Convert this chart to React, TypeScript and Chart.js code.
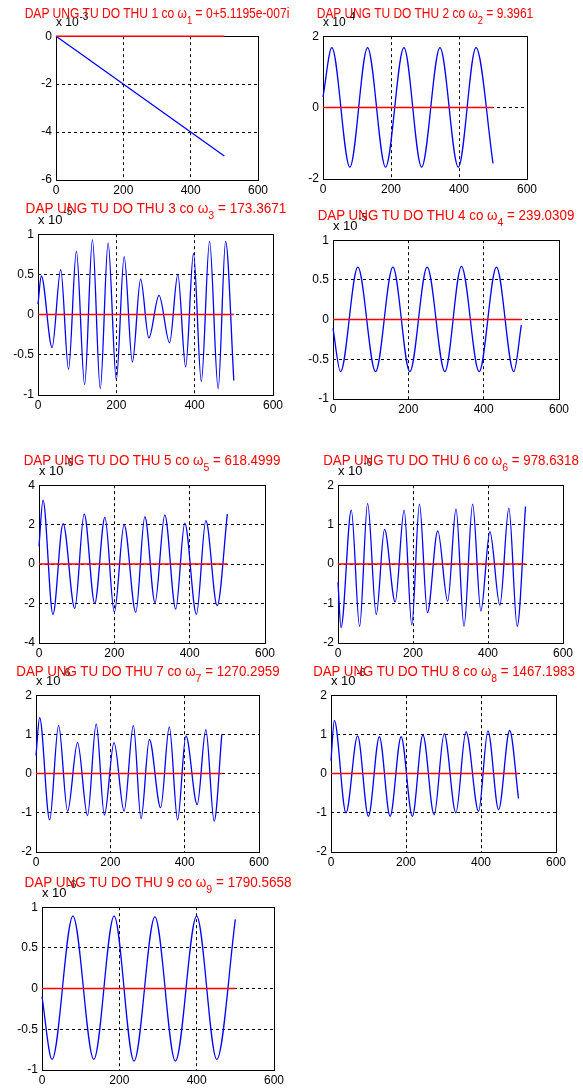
import React, { useEffect, useRef } from "react";
import { Chart, registerables } from "chart.js";

Chart.register(...registerables);

// ---------- data ----------
const xTicks = [0, 200, 400, 600];
const modeNumbers = [1, 2, 3, 4, 5, 6, 7, 8, 9];
const omegaLabels = [
  "0+5.1195e-007i",
  "9.3961",
  "173.3671",
  "239.0309",
  "618.4999",
  "978.6318",
  "1270.2959",
  "1467.1983",
  "1790.5658",
];
const exponentLabels = ["-3", "-4", "-5", "-5", "-6", "-6", "-6", "-6", "-6"];

const yTicks1 = [-6, -4, -2, 0];
const yTicks2 = [-2, 0, 2];
const yTicks3 = [-1, -0.5, 0, 0.5, 1];
const yTicks4 = [-1, -0.5, 0, 0.5, 1];
const yTicks5 = [-4, -2, 0, 2, 4];
const yTicks6 = [-2, -1, 0, 1, 2];
const yTicks7 = [-2, -1, 0, 1, 2];
const yTicks8 = [-2, -1, 0, 1, 2];
const yTicks9 = [-1, -0.5, 0, 0.5, 1];

const zeroLineX = [0, 500];
const zeroLineY = [0, 0];

const mode1X = [0, 500];
const mode1Y = [0, -5];

const mode2X = [0, 26, 79, 131, 184, 238, 290, 344, 398, 450, 500];
const mode2Y = [0.3, 1.68, -1.67, 1.68, -1.67, 1.68, -1.67, 1.68, -1.67, 1.68, -1.56];

const mode3X = [0, 8.5, 36, 58, 78, 98, 119, 139, 159, 179, 200, 220, 241, 262, 283, 309, 336, 357, 377, 397, 417, 438, 460, 479, 500];
const mode3Y = [0.13, 0.48, -0.41, 0.56, -0.68, 0.79, -0.87, 0.93, -0.92, 0.89, -0.81, 0.72, -0.59, 0.44, -0.29, 0.24, -0.35, 0.5, -0.65, 0.76, -0.83, 0.91, -0.92, 0.91, -0.82];

const mode4X = [0, 20, 66, 113, 159, 204, 250, 297, 341, 388, 434, 480, 500];
const mode4Y = [-0.11, -0.655, 0.66, -0.655, 0.66, -0.655, 0.66, -0.655, 0.67, -0.655, 0.66, -0.655, -0.07];

const mode5X = [0, 10.6, 37, 64, 95, 120, 148, 175, 200, 226, 257, 281, 308, 334, 363, 387, 418, 443, 473, 500];
const mode5Y = [0.9, 3.24, -2.55, 2.05, -2.25, 2.55, -2.0, 2.38, -2.45, 2.0, -2.45, 2.41, -1.96, 2.5, -2.28, 2.08, -2.55, 2.2, -2.11, 2.53];

const mode6X = [0, 8, 35.5, 57.6, 79, 102, 124, 152.5, 176.4, 196.8, 217.2, 238.5, 266, 292.6, 314.7, 336, 359, 381, 405, 431.7, 455.7, 477.8, 500];
const mode6Y = [-0.46, -1.61, 1.37, -1.58, 1.54, -1.28, 0.88, -0.96, 1.37, -1.54, 1.52, -1.23, 0.84, -0.94, 1.4, -1.58, 1.52, -1.19, 0.82, -1.04, 1.42, -1.58, 1.46];

const mode7X = [0, 9.8, 36.7, 60.8, 85, 111.8, 138.6, 162, 184, 210, 237, 262, 282.6, 305, 335.4, 358.7, 381, 403.4, 433.8, 457, 479.4, 500];
const mode7Y = [0.46, 1.43, -1.18, 1.23, -0.96, 0.79, -1.07, 1.27, -1.06, 0.79, -0.96, 1.23, -1.15, 0.87, -0.87, 1.19, -1.18, 0.96, -0.79, 1.12, -1.21, 1.0];

const mode8X = [0, 8.9, 40, 71, 99.7, 129, 157.6, 187, 217, 245, 275, 302, 333, 360, 393.6, 418.5, 447, 476.4, 500];
const mode8Y = [0.33, 1.36, -1.0, 0.96, -1.09, 0.94, -1.09, 0.94, -1.09, 0.99, -1.05, 1.02, -1.0, 1.07, -0.96, 1.09, -0.92, 1.1, -0.63];

const mode9X = [0, 26, 80, 134, 186.5, 238, 292, 345, 400, 452, 500];
const mode9Y = [-0.1, -0.87, 0.89, -0.87, 0.89, -0.89, 0.88, -0.89, 0.89, -0.87, 0.85];

// ---------- layout (pixel boxes of each axes + text styling) ----------
const boxes = [
  { l: 56, t: 33, r: 258, b: 180, gap: 15, ts: 0.862, lab: 12, expUp: 21 },
  { l: 323, t: 33, r: 527, b: 179, gap: 15, ts: 0.855, lab: 12, expUp: 21 },
  { l: 38, t: 231, r: 273, b: 395, gap: 18, ts: 0.97, lab: 13, expUp: 24 },
  { l: 333, t: 237, r: 559, b: 399, gap: 17, ts: 0.955, lab: 13, expUp: 24 },
  { l: 39, t: 482, r: 265, b: 643, gap: 17, ts: 0.955, lab: 13, expUp: 24 },
  { l: 338, t: 482, r: 563, b: 643, gap: 17, ts: 0.951, lab: 13, expUp: 24 },
  { l: 36, t: 692, r: 259, b: 852, gap: 16, ts: 0.952, lab: 13, expUp: 24 },
  { l: 331, t: 692, r: 556, b: 852, gap: 16, ts: 0.946, lab: 13, expUp: 24 },
  { l: 42, t: 904, r: 274, b: 1070, gap: 17, ts: 0.966, lab: 13, expUp: 24 },
];

const series = [
  { xs: mode1X, ys: mode1Y, yTicks: yTicks1 },
  { xs: mode2X, ys: mode2Y, yTicks: yTicks2 },
  { xs: mode3X, ys: mode3Y, yTicks: yTicks3 },
  { xs: mode4X, ys: mode4Y, yTicks: yTicks4 },
  { xs: mode5X, ys: mode5Y, yTicks: yTicks5 },
  { xs: mode6X, ys: mode6Y, yTicks: yTicks6 },
  { xs: mode7X, ys: mode7Y, yTicks: yTicks7 },
  { xs: mode8X, ys: mode8Y, yTicks: yTicks8 },
  { xs: mode9X, ys: mode9Y, yTicks: yTicks9 },
];

const FONT = "'Liberation Sans', Arial, sans-serif";
const PAD_L = 44;
const PAD_T = 8;
const PAD_R = 18;
const AX_H = 24;
const TITLE_FS = 14;

// top of a line box (line-height = font size) so that the baseline lands at `baseline`
const topForBaseline = (baseline: number, fs: number) => baseline - ((fs - 1.117 * fs) / 2 + 0.905 * fs);

const toPoints = (xs: number[], ys: number[]) => xs.map((x, i) => ({ x, y: ys[i] }));

const framePlugin = {
  id: "frame",
  beforeDatasetsDraw(chart: any) {
    const { ctx, chartArea } = chart;
    const { left, top, right, bottom } = chartArea;
    ctx.save();
    ctx.strokeStyle = "#000";
    ctx.lineWidth = 1;
    ctx.setLineDash([]);
    ctx.strokeRect(Math.round(left) + 0.5, Math.round(top) + 0.5, Math.round(right - left), Math.round(bottom - top));
    ctx.restore();
  },
};

function Panel({ idx }: { idx: number }) {
  const ref = useRef<HTMLCanvasElement>(null);
  const box = boxes[idx];
  const s = series[idx];
  const w = box.r - box.l + PAD_L + PAD_R;
  const h = box.b - box.t + PAD_T + AX_H;

  useEffect(() => {
    const canvas = ref.current!;
    const yMin = s.yTicks[0];
    const yMax = s.yTicks[s.yTicks.length - 1];
    const gridColor = (lo: number, hi: number) => (c: any) =>
      c.tick && (c.tick.value === lo || c.tick.value === hi) ? "rgba(0,0,0,0)" : "#000";
    const chart = new Chart(canvas, {
      type: "line",
      data: {
        datasets: [
          {
            data: toPoints(zeroLineX, zeroLineY),
            borderColor: "#ff0000",
            borderWidth: 1.5,
            pointRadius: 0,
            order: 0,
            clip: 3,
          },
          {
            data: toPoints(s.xs, s.ys),
            borderColor: "#0000ff",
            borderWidth: 1.3,
            pointRadius: 0,
            cubicInterpolationMode: "monotone",
            order: 1,
            clip: 3,
          },
        ],
      } as any,
      options: {
        animation: false,
        responsive: false,
        devicePixelRatio: 1,
        events: [],
        layout: { padding: { left: 0, top: PAD_T, right: PAD_R, bottom: 0 } },
        plugins: { legend: { display: false }, tooltip: { enabled: false }, title: { display: false } },
        scales: {
          x: {
            type: "linear",
            min: 0,
            max: 600,
            afterBuildTicks: (sc: any) => {
              sc.ticks = xTicks.map((v) => ({ value: v }));
            },
            afterFit: (sc: any) => {
              sc.height = AX_H;
            },
            ticks: {
              autoSkip: false,
              maxRotation: 0,
              padding: 3,
              color: "#000",
              font: { family: FONT, size: 12 },
              callback: (v: any) => String(v),
            },
            grid: { color: gridColor(0, 600), lineWidth: 1, drawTicks: false },
            border: { display: false, dash: [3, 3] },
          },
          y: {
            type: "linear",
            min: yMin,
            max: yMax,
            afterBuildTicks: (sc: any) => {
              sc.ticks = s.yTicks.map((v) => ({ value: v }));
            },
            afterFit: (sc: any) => {
              sc.width = PAD_L;
            },
            ticks: {
              autoSkip: false,
              padding: 4,
              color: "#000",
              font: { family: FONT, size: 12 },
              callback: (v: any) => String(v),
            },
            grid: { color: gridColor(yMin, yMax), lineWidth: 1, drawTicks: false },
            border: { display: false, dash: [3, 3] },
          },
        },
      } as any,
      plugins: [framePlugin],
    });
    return () => chart.destroy();
  }, [idx]);

  return (
    <canvas
      ref={ref}
      width={w}
      height={h}
      style={{ position: "absolute", left: box.l - PAD_L, top: box.t - PAD_T, width: w, height: h }}
    />
  );
}

function Labels({ idx }: { idx: number }) {
  const box = boxes[idx];
  const cx = (box.l + box.r) / 2;
  const n = modeNumbers[idx];
  const labW = box.lab === 12 ? 22.5 : 24.5;
  return (
    <>
      <div
        style={{
          position: "absolute",
          left: box.l,
          top: topForBaseline(box.t - 7, box.lab),
          fontSize: box.lab,
          lineHeight: box.lab + "px",
          color: "#000",
          whiteSpace: "nowrap",
        }}
      >
        x 10
      </div>
      <div
        style={{
          position: "absolute",
          left: box.l + labW + 1,
          top: box.t - box.expUp,
          fontSize: 10,
          lineHeight: "10px",
          color: "#000",
          whiteSpace: "nowrap",
        }}
      >
        {exponentLabels[idx]}
      </div>
      <div
        style={{
          position: "absolute",
          left: cx,
          top: topForBaseline(box.t - box.gap, TITLE_FS),
          transform: `translateX(-50%) scaleX(${box.ts})`,
          transformOrigin: "50% 50%",
          fontSize: TITLE_FS,
          lineHeight: TITLE_FS + "px",
          color: "#ff0000",
          whiteSpace: "nowrap",
        }}
      >
        DAP UNG TU DO THU {n} co ω
        <span style={{ fontSize: 11, position: "relative", top: 6 }}>{n}</span> = {omegaLabels[idx]}
      </div>
    </>
  );
}

export default function App() {
  return (
    <div
      style={{
        position: "absolute",
        left: 0,
        top: 0,
        width: 583,
        height: 1091,
        background: "#fff",
        fontFamily: FONT,
        overflow: "hidden",
      }}
    >
      {boxes.map((_, i) => (
        <Panel key={"p" + i} idx={i} />
      ))}
      {boxes.map((_, i) => (
        <Labels key={"l" + i} idx={i} />
      ))}
    </div>
  );
}
